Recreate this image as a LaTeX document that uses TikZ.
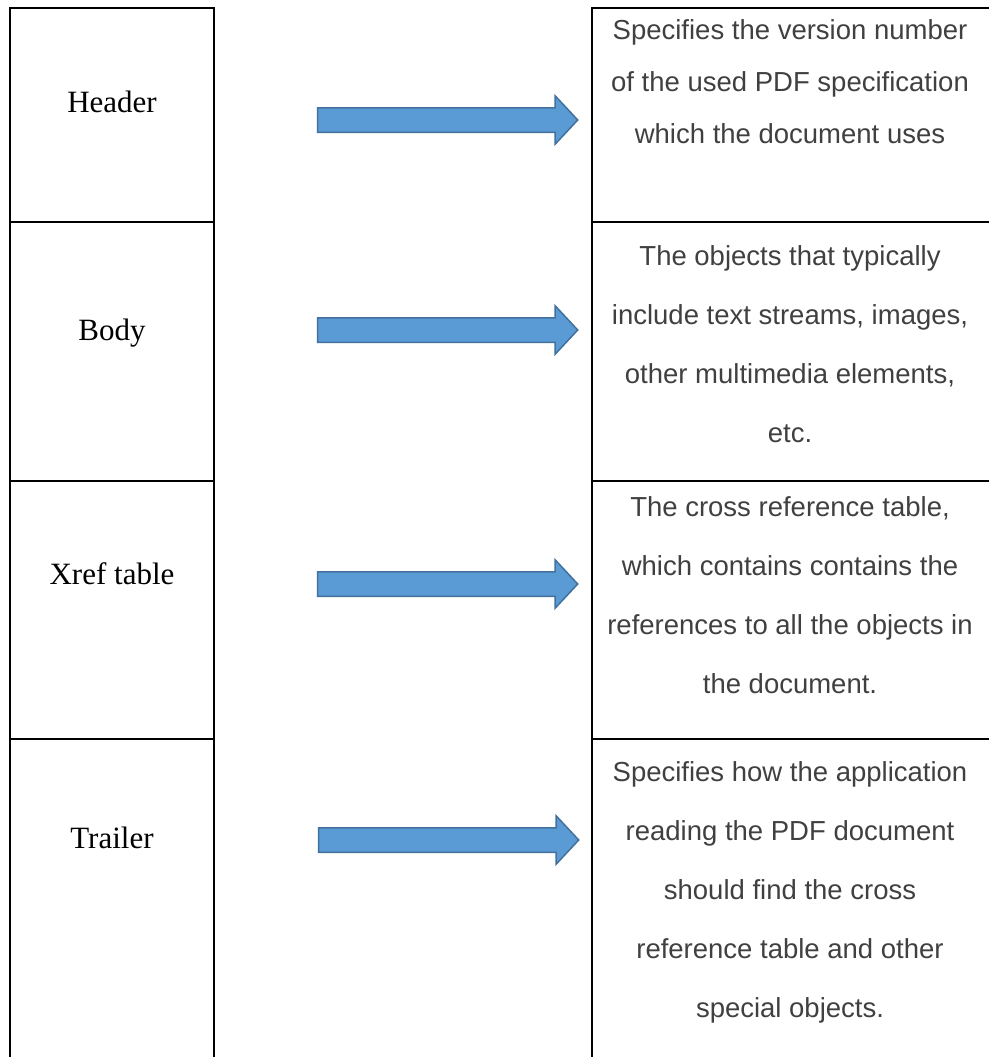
\documentclass[tikz,border=0pt]{standalone}
\usepackage{fontspec}
\setmainfont{Liberation Serif}
\newfontfamily\descfont{Liberation Sans}
\usetikzlibrary{positioning,shapes.arrows}
\definecolor{arrowfill}{HTML}{5B9BD5}
\definecolor{arrowline}{HTML}{41719C}
\definecolor{desctext}{HTML}{404040}

\begin{document}
\begin{tikzpicture}[x=1pt,y=-1pt,
  part/.style={font=\fontsize{31}{36}\selectfont, anchor=base, inner sep=0pt},
  desc/.style={font=\descfont\fontsize{27.5}{59}\selectfont, text=desctext, align=center, anchor=base, inner sep=0pt},
  blockarrow/.style={single arrow, draw=arrowline, fill=arrowfill, line width=1.5pt, inner xsep=0pt, inner ysep=11.5pt,
    minimum height=260pt, single arrow head extend=12pt, single arrow tip angle=94}]
\useasboundingbox (0,0) rectangle (989,1057);
% table frame
\draw[line width=1.5pt] (10,1057) -- (10,8) -- (214,8) -- (214,1057);
\draw[line width=1.5pt] (989,8) -- (592,8) -- (592,1057);
\draw[line width=1.5pt] (10,222) -- (214,222);
\draw[line width=1.5pt] (10,481) -- (214,481);
\draw[line width=1.5pt] (10,739) -- (214,739);
\draw[line width=1.5pt] (592,222) -- (989,222);
\draw[line width=1.5pt] (592,481) -- (989,481);
\draw[line width=1.5pt] (592,739) -- (989,739);
% file parts
\node[part] (hdr) at (112,112) {Header};
\node[part] (body) at (112,340) {Body};
\node[part] (xref) at (112,584) {Xref table};
\node[part] (trailer) at (112,848) {Trailer};
% arrows
\node[blockarrow] (hdrarrow) at (442,120) {};
\node[blockarrow] (bodyarrow) at (442,330) {};
\node[blockarrow] (xrefarrow) at (442,584) {};
\node[blockarrow] (trailerarrow) at (443,840) {};
% descriptions (anchored at the last line)
\node[desc, font=\descfont\fontsize{27.5}{52}\selectfont] (hdrdesc) at (790,143) {Specifies the version number\\of the used PDF specification\\which the document uses};
\node[desc] (bodydesc) at (790,442) {The objects that typically\\include text streams, images,\\other multimedia elements,\\etc.};
\node[desc] (xrefdesc) at (790,693) {The cross reference table,\\which contains contains the\\references to all the objects in\\the document.};
\node[desc] (trailerdesc) at (790,1017) {Specifies how the application\\reading the PDF document\\should find the cross\\reference table and other\\special objects.};
\end{tikzpicture}
\end{document}
